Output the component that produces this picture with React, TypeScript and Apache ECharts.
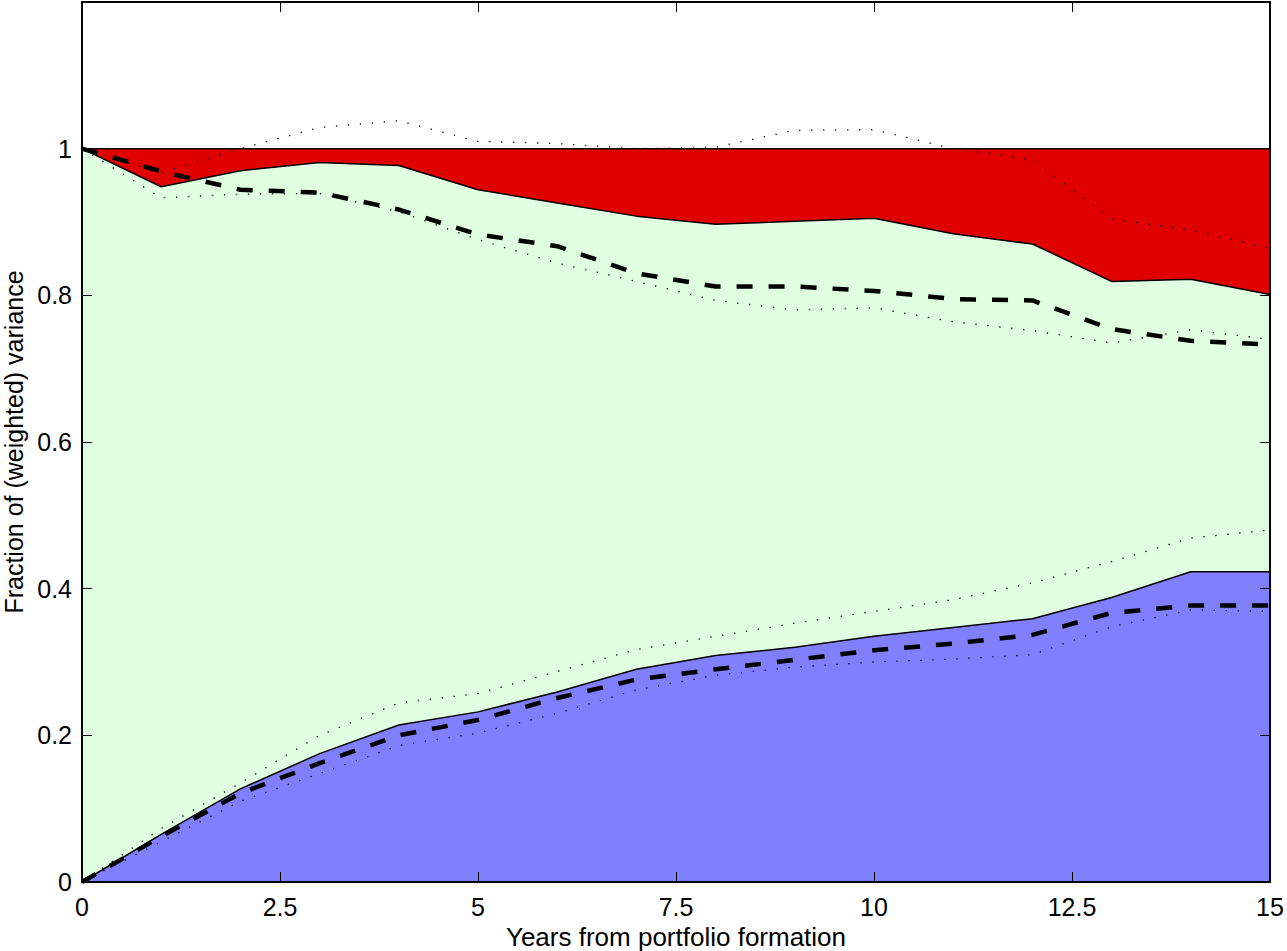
import React, { useEffect, useRef } from "react";
import * as echarts from "echarts";

const years = [0, 1, 2, 3, 4, 5, 6, 7, 8, 9, 10, 11, 12, 13, 14, 15];
const blueTop = [0, 0.065, 0.127, 0.175, 0.214, 0.232, 0.259, 0.29, 0.309, 0.32, 0.335, 0.347, 0.359, 0.388, 0.423, 0.423];
const redBottom = [1, 0.948, 0.97, 0.981, 0.977, 0.944, 0.926, 0.908, 0.897, 0.901, 0.905, 0.884, 0.87, 0.819, 0.822, 0.801];
const totalTop = [1, 1, 1, 1, 1, 1, 1, 1, 1, 1, 1, 1, 1, 1, 1, 1];
const upperDashed = [1, 0.969, 0.944, 0.94, 0.917, 0.883, 0.867, 0.83, 0.812, 0.812, 0.806, 0.795, 0.793, 0.754, 0.738, 0.733];
const lowerDashed = [0, 0.062, 0.121, 0.162, 0.2, 0.221, 0.251, 0.276, 0.29, 0.303, 0.316, 0.325, 0.337, 0.367, 0.377, 0.377];
const upperDotHi = [1, 0.967, 1.0, 1.029, 1.038, 1.01, 1.007, 1.0, 1.002, 1.025, 1.026, 1.0, 0.985, 0.904, 0.889, 0.864];
const upperDotLo = [1, 0.933, 0.938, 0.939, 0.914, 0.876, 0.844, 0.819, 0.793, 0.78, 0.783, 0.764, 0.752, 0.735, 0.753, 0.74];
const lowerDotHi = [0, 0.073, 0.135, 0.2, 0.244, 0.257, 0.287, 0.317, 0.335, 0.353, 0.369, 0.385, 0.408, 0.437, 0.469, 0.48];
const lowerDotLo = [0, 0.055, 0.11, 0.148, 0.186, 0.203, 0.23, 0.262, 0.282, 0.293, 0.3, 0.304, 0.31, 0.348, 0.371, 0.369];

const xTitle = "Years from portfolio formation";
const yTitle = "Fraction of (weighted) variance";

const FONT = "'Liberation Sans', Arial, Helvetica, sans-serif";

function pts(vals: number[]) {
  return years.map((x, i) => [x, vals[i]]);
}

export default function App() {
  const ref = useRef<HTMLDivElement>(null);
  useEffect(() => {
    if (!ref.current) return;
    const chart = echarts.init(ref.current, undefined, { renderer: "svg" });
    const axisLine = { show: true, onZero: false, lineStyle: { color: "#000", width: 2 } };
    const tick = { show: true, inside: true, length: 10, lineStyle: { color: "#000", width: 1 } };
    const area = (name: string, vals: number[], color: string, z: number) => ({
      name,
      type: "line",
      data: pts(vals),
      symbol: "none",
      z,
      lineStyle: { color: "#000", width: 1.5 },
      areaStyle: { color, opacity: 1, origin: "start" },
    });
    const line = (name: string, vals: number[], width: number, type: any, z: number) => ({
      name,
      type: "line",
      data: pts(vals),
      symbol: "none",
      z,
      lineStyle: { color: "#000", width, type },
    });
    chart.setOption({
      animation: false,
      backgroundColor: "#fff",
      grid: { left: 82, right: 17, top: 2, bottom: 69, containLabel: false, outerBoundsMode: "none" },
      xAxis: [
        {
          type: "value",
          min: 0,
          max: 15,
          interval: 2.5,
          z: 20,
          name: xTitle,
          nameLocation: "middle",
          nameGap: 40,
          nameTextStyle: { fontFamily: FONT, fontSize: 26, color: "#000" },
          axisLine,
          axisTick: tick,
          splitLine: { show: false },
          axisLabel: { fontFamily: FONT, fontSize: 25, color: "#000", margin: 12 },
        },
        {
          type: "value",
          position: "top",
          min: 0,
          max: 15,
          interval: 2.5,
          z: 20,
          axisLine,
          axisTick: tick,
          splitLine: { show: false },
          axisLabel: { show: false },
        },
      ],
      yAxis: [
        {
          type: "value",
          min: 0,
          max: 1.2,
          interval: 0.2,
          z: 20,
          name: yTitle,
          nameLocation: "middle",
          nameGap: 44,
          nameTextStyle: { fontFamily: FONT, fontSize: 25, color: "#000" },
          axisLine,
          axisTick: tick,
          splitLine: { show: false },
          axisLabel: {
            fontFamily: FONT,
            fontSize: 25,
            color: "#000",
            margin: 10,
            formatter: (v: number) => (v > 1.0001 ? "" : String(Math.round(v * 10) / 10)),
          },
        },
        {
          type: "value",
          position: "right",
          min: 0,
          max: 1.2,
          interval: 0.2,
          z: 20,
          axisLine,
          axisTick: tick,
          splitLine: { show: false },
          axisLabel: { show: false },
        },
      ],
      series: [
        area("total", totalTop, "#E00000", 1),
        area("middle", redBottom, "#E0FFE0", 2),
        area("bottom", blueTop, "#8080FF", 3),
        line("upperDotHi", upperDotHi, 1.3, [1.3, 10.7], 5),
        line("upperDotLo", upperDotLo, 1.3, [1.3, 10.7], 5),
        line("lowerDotHi", lowerDotHi, 1.3, [1.3, 10.7], 5),
        line("lowerDotLo", lowerDotLo, 1.3, [1.3, 10.7], 5),
        line("upperDashed", upperDashed, 4.5, [16, 16], 6),
        line("lowerDashed", lowerDashed, 4.5, [16, 16], 6),
      ],
    });
    return () => chart.dispose();
  }, []);
  return (
    <div
      ref={ref}
      style={{ position: "fixed", left: 0, top: 0, width: 1287, height: 951, background: "#fff" }}
    />
  );
}
